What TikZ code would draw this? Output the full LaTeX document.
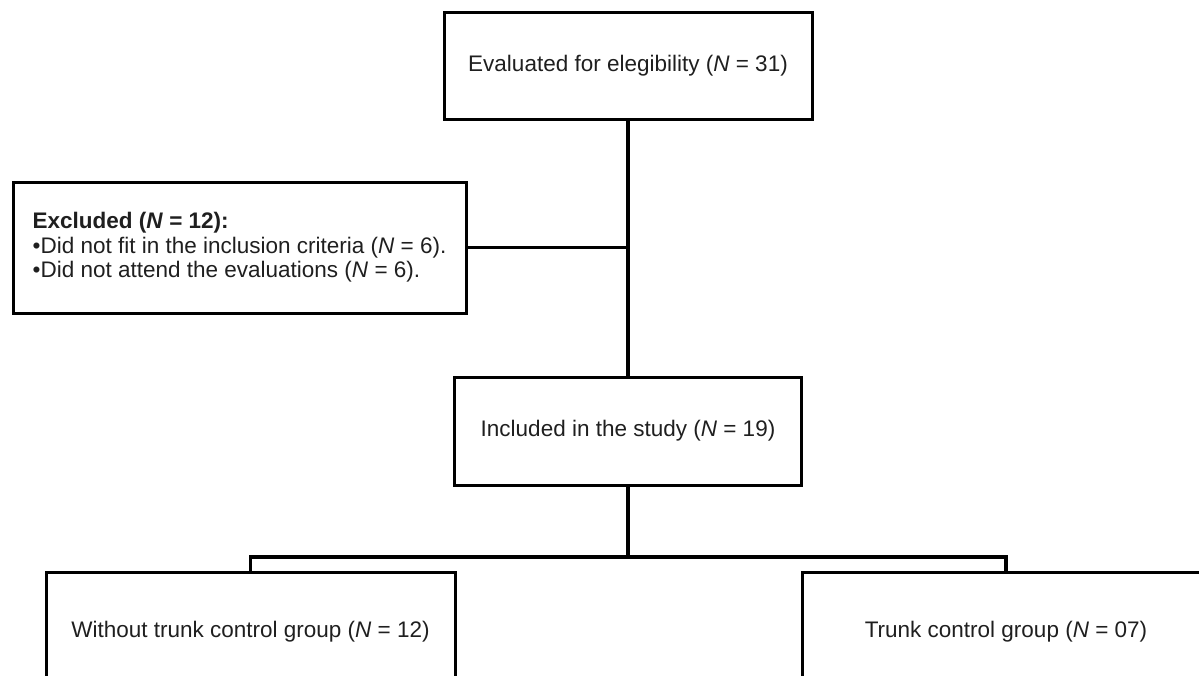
\documentclass[tikz,border=0pt]{standalone}
\usepackage{fontspec}
\setmainfont{Liberation Sans}
\begin{document}
\begin{tikzpicture}[x=1pt,y=-1pt,
  box/.style={draw, line width=3pt, inner sep=0pt, font=\fontsize{22.5}{24.5}\selectfont, text=black!88},
  conn/.style={line width=3.5pt}]
\path[use as bounding box] (0,0) rectangle (1199,675);
\clip (0,0) rectangle (1199,675);
\node[box, minimum width=368pt, minimum height=107pt] (top) at (628,65.5) {Evaluated for elegibility (\textit{N} = 31)};
\node[box, minimum width=453pt, minimum height=131pt, align=left] (excl) at (239.5,247.5)
  {\textbf{Excluded (\textit{N} = 12):}\\
   •Did not fit in the inclusion criteria (\textit{N} = 6).\\
   •Did not attend the evaluations (\textit{N} = 6).};
\node[box, minimum width=347pt, minimum height=108pt] (incl) at (628,431) {Included in the study (\textit{N} = 19)};
\node[box, minimum width=409pt, minimum height=120pt] (lb) at (250.5,632) {Without trunk control group (\textit{N} = 12)};
\node[box, minimum width=408pt, minimum height=120pt] (rb) at (1006,632) {Trunk control group (\textit{N} = 07)};
\coordinate (j) at (628,557);
\draw[conn] (top.south) -- (incl.north);
\draw[conn] (excl.east) -- (excl.east -| top.south);
\draw[conn] (incl.south) -- (j);
\draw[conn] (lb.north) |- (j) -| (rb.north);
\end{tikzpicture}
\end{document}
